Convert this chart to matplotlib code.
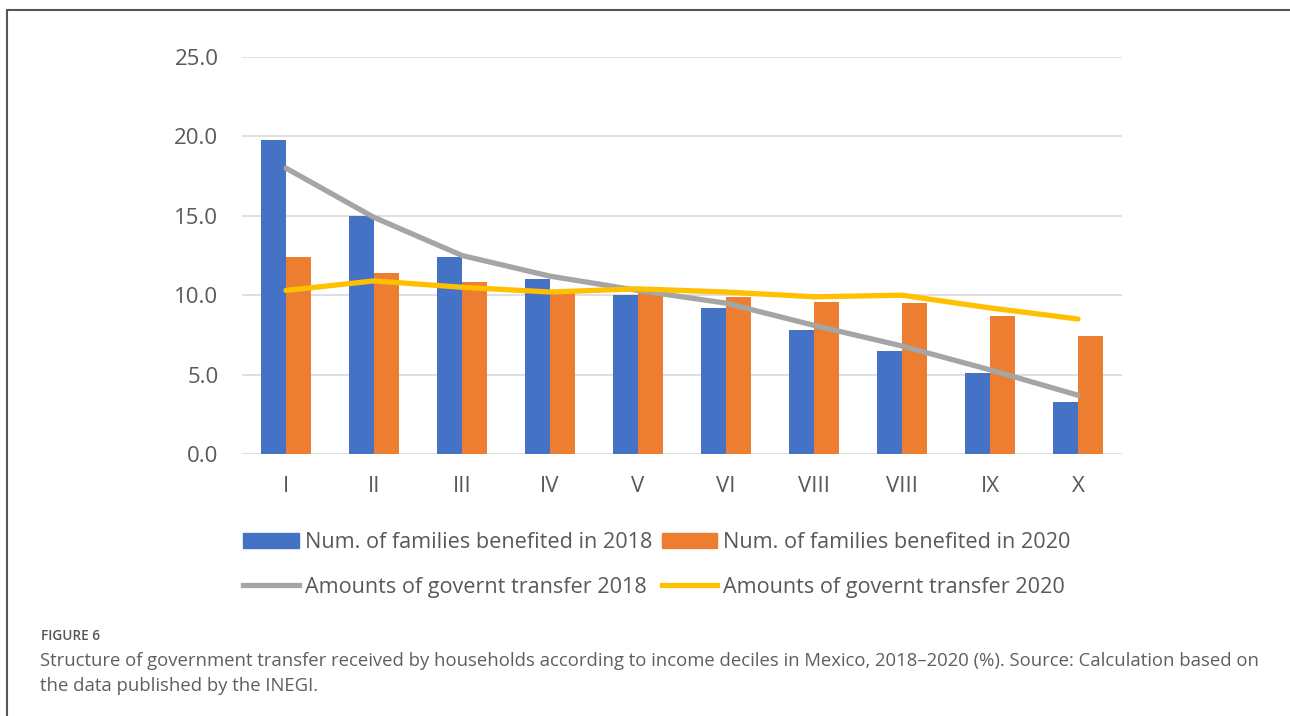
import numpy as np
import matplotlib.pyplot as plt
from matplotlib.patches import Rectangle
from matplotlib.lines import Line2D

plt.rcParams['font.family'] = ['Open Sans', 'DejaVu Sans']

# income deciles (the reference repeats "VIII")
deciles = ['I', 'II', 'III', 'IV', 'V', 'VI', 'VIII', 'VIII', 'IX', 'X']
families_2018 = [19.8, 15.0, 12.4, 11.0, 10.0, 9.2, 7.8, 6.5, 5.1, 3.3]
families_2020 = [12.4, 11.4, 10.8, 10.2, 10.4, 9.9, 9.6, 9.5, 8.7, 7.4]
transfer_2018 = [18.0, 14.9, 12.5, 11.2, 10.3, 9.5, 8.1, 6.8, 5.3, 3.7]
transfer_2020 = [10.3, 10.9, 10.5, 10.2, 10.4, 10.2, 9.9, 10.0, 9.2, 8.5]

c_blue, c_orange = '#4472C4', '#ED7D31'
c_gray, c_yellow = '#A5A5A5', '#FFC000'
txt = '#595959'

fig = plt.figure(figsize=(12.9, 7.16), dpi=100)
ax = fig.add_axes([242/1290, 1-454/716, 880/1290, 397/716])

x = np.arange(len(deciles))
w = 0.285
ax.bar(x - w/2, families_2018, w, color=c_blue, zorder=2)
ax.bar(x + w/2, families_2020, w, color=c_orange, zorder=2)
ax.plot(x, transfer_2018, color=c_gray, lw=3.8, solid_capstyle='round', zorder=3)
ax.plot(x, transfer_2020, color=c_yellow, lw=3.8, solid_capstyle='round', zorder=3)

ax.set_xlim(-0.5, 9.5)
ax.set_ylim(0, 25)
ax.set_yticks(np.arange(0, 26, 5))
ax.set_yticklabels(['%.1f' % v for v in np.arange(0, 26, 5)])
ax.set_xticks(x)
ax.set_xticklabels(deciles)
ax.grid(axis='y', color='#D9D9D9', lw=1.2, zorder=0)
ax.set_axisbelow(True)
for s in ax.spines.values():
    s.set_visible(False)
ax.tick_params(length=0, labelsize=16, colors=txt)
ax.tick_params(axis='x', pad=16)
ax.tick_params(axis='y', pad=17)

handles = [Rectangle((0, 0), 1, 1, color=c_blue),
           Rectangle((0, 0), 1, 1, color=c_orange),
           Line2D([], [], color=c_gray, lw=3.8),
           Line2D([], [], color=c_yellow, lw=3.8)]
labels = ['Num. of families benefited in 2018', 'Num. of families benefited in 2020',
          'Amounts of governt transfer 2018', 'Amounts of governt transfer 2020']
# order so that row 1 holds the bars, row 2 the lines
order = [0, 2, 1, 3]
fig.legend([handles[i] for i in order], [labels[i] for i in order],
           ncol=2, loc='center', bbox_to_anchor=(657/1290, 1-565/716),
           frameon=False, fontsize=15.6, labelcolor=txt, handlelength=2.55,
           handleheight=0.65, handletextpad=0.28, columnspacing=0.46,
           labelspacing=1.1)

# frame around the figure panel
fig.patches.append(Rectangle((7/1290, -0.1), 1.2, 1.1 - 10/716, transform=fig.transFigure,
                             fill=False, edgecolor='#555555', lw=1.5))

fig.text(41/1290, 1-640/716, 'FIGURE 6', fontsize=9.8, fontweight='semibold',
         color='#555555', va='baseline')
fig.text(40/1290, 1-666/716,
         'Structure of government transfer received by households according to income deciles in Mexico, '
         '2018\u20132020 (%). Source: Calculation based on',
         fontsize=13.3, color='#5f5f5f', va='baseline')
fig.text(40/1290, 1-691/716, 'the data published by the INEGI.',
         fontsize=13.3, color='#5f5f5f', va='baseline')

fig.savefig('out.png', dpi=100)
